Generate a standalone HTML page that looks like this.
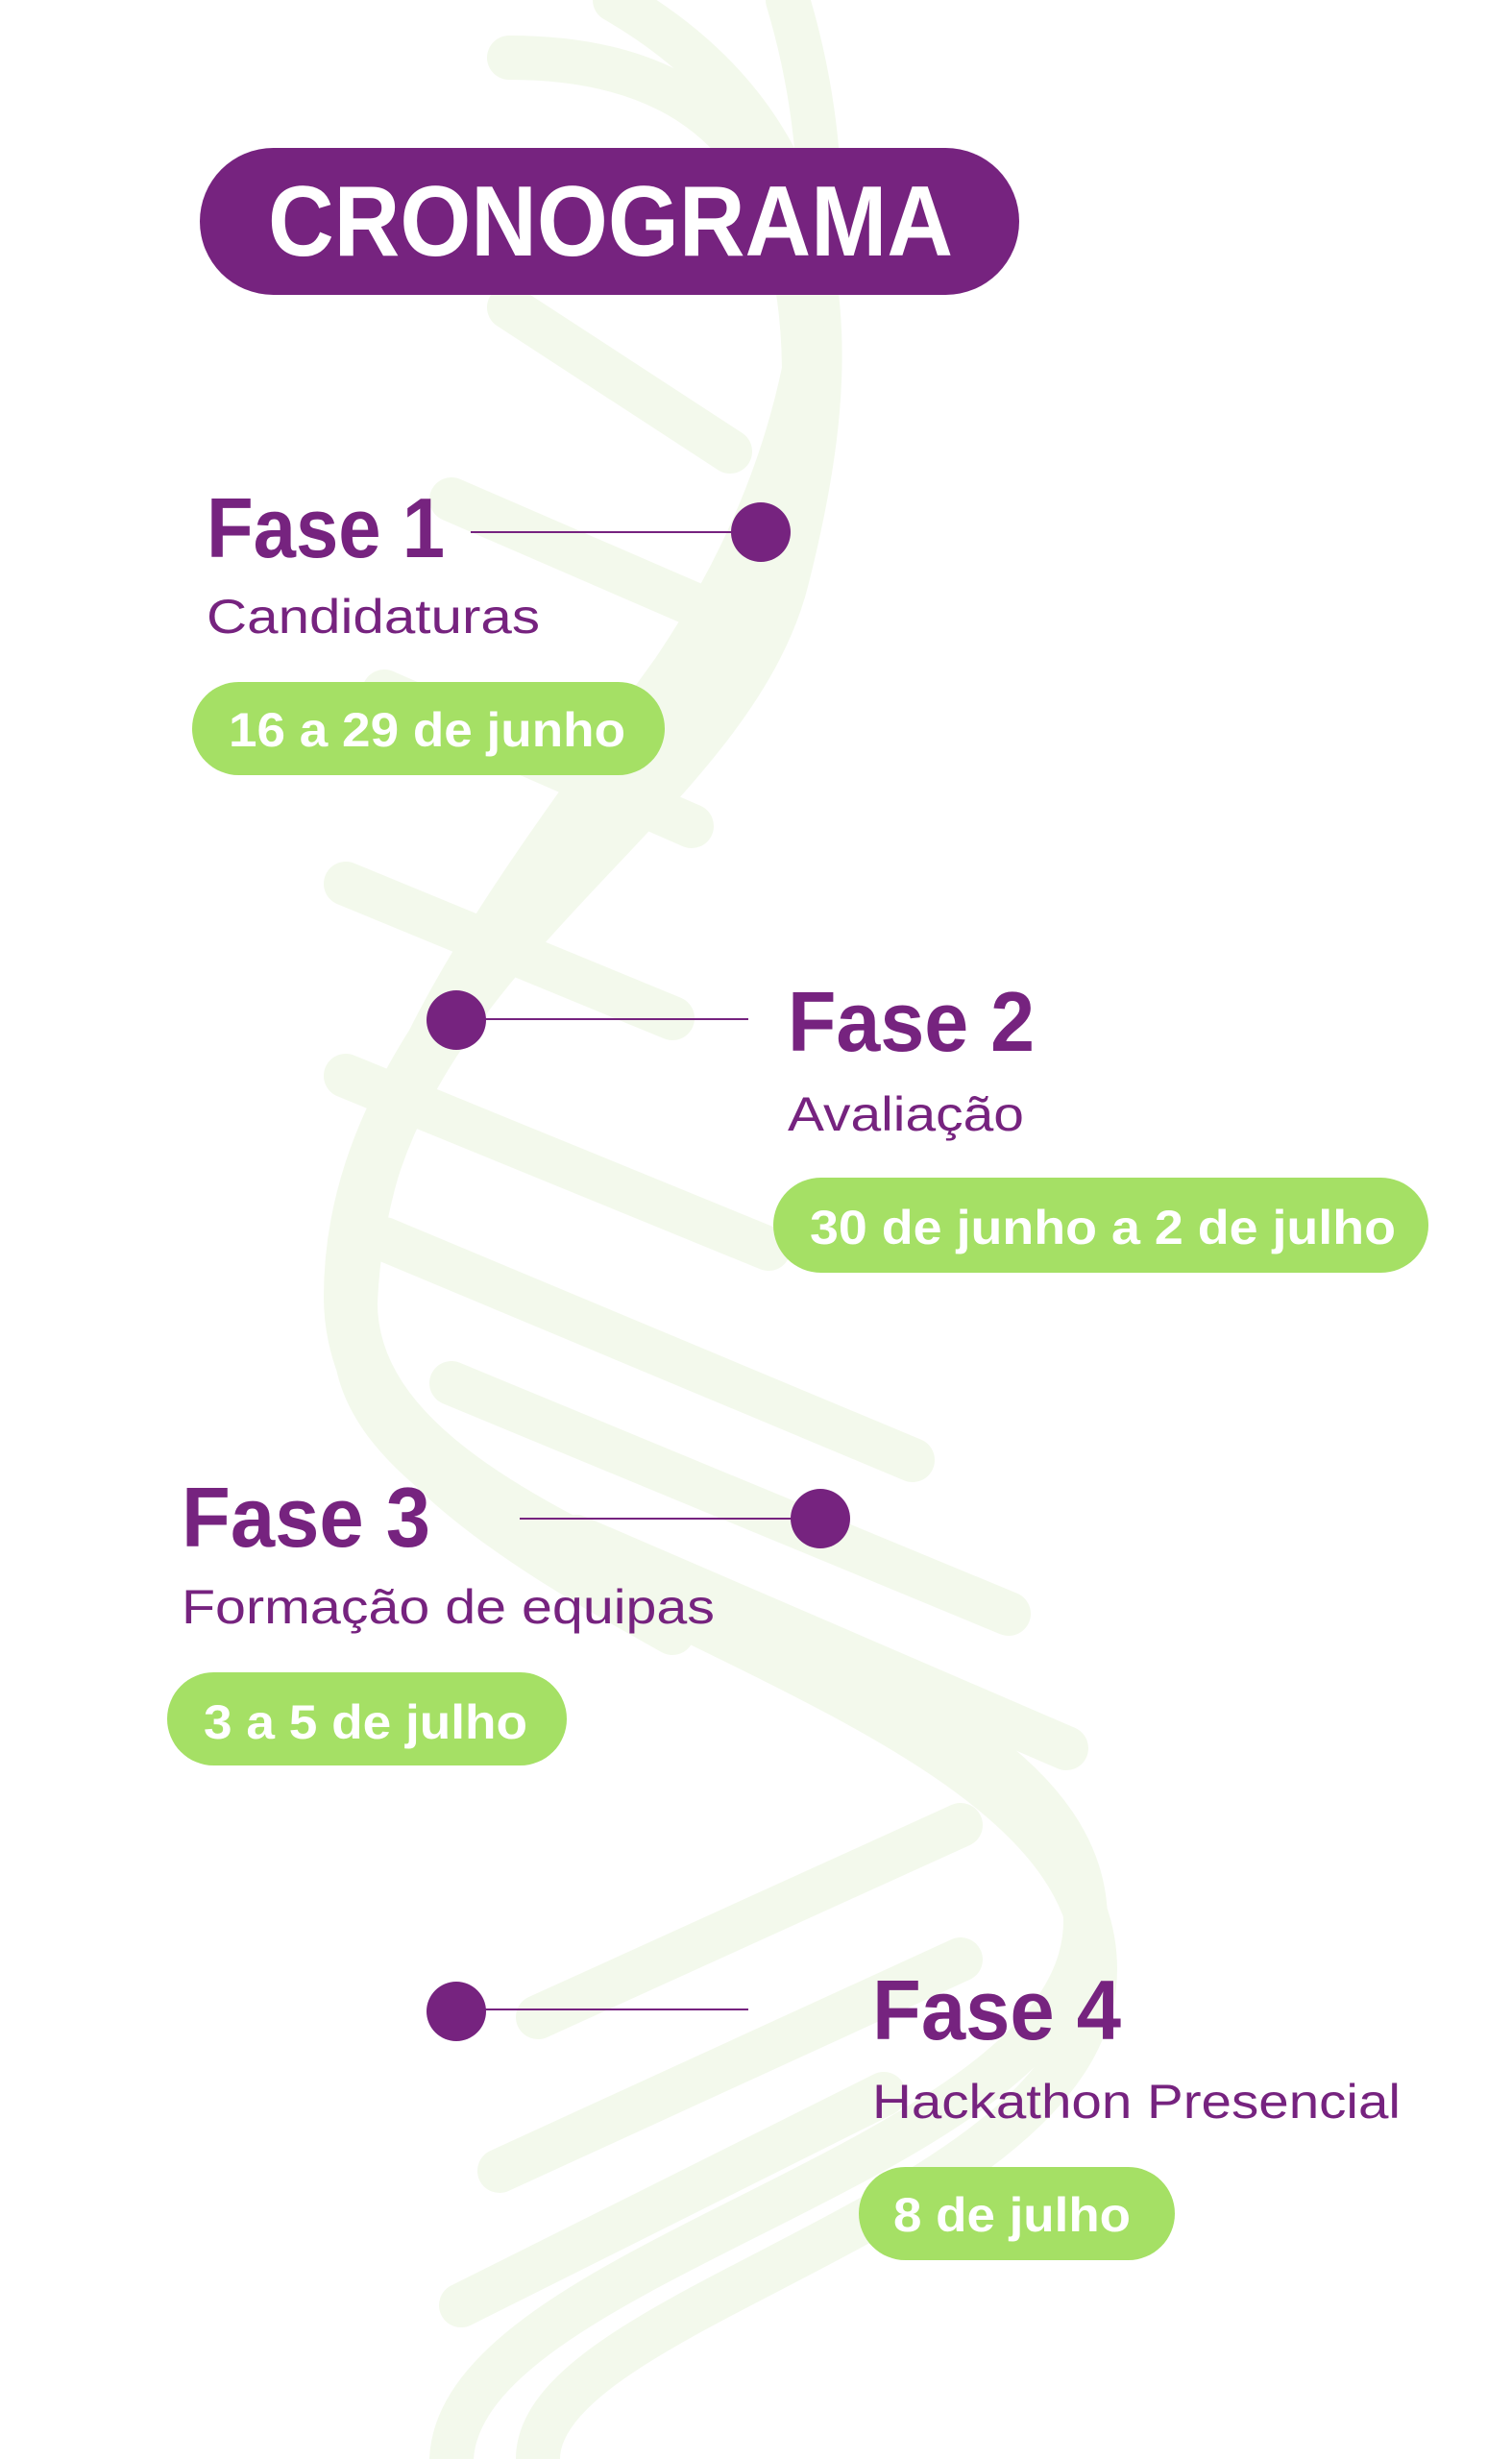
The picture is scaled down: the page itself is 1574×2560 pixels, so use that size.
<!DOCTYPE html>
<html><head><meta charset="utf-8"><style>
html,body{margin:0;padding:0;background:#fff;}
svg{display:block;}
text{font-family:"Liberation Sans",sans-serif;}
</style></head><body>
<svg width="1574" height="2560" viewBox="0 0 1574 2560" xmlns="http://www.w3.org/2000/svg">
<rect width="1574" height="2560" fill="#ffffff"/>
<!-- faint DNA background -->
<g fill="none" stroke="#f3f9ec" stroke-width="46" stroke-linecap="round">
  <path d="M640 0 C 900 150, 870 400, 820 600 C 760 850, 380 1000, 370 1350 C 360 1650, 1130 1700, 1130 2000 C 1130 2250, 480 2350, 470 2560"/>
  <path d="M820 0 C 880 200, 870 450, 700 700 C 520 950, 360 1150, 370 1400 C 380 1650, 1140 1750, 1140 2050 C 1140 2300, 560 2400, 560 2560"/>
  <path d="M530 60 C 800 60, 860 250, 830 500 C 800 800, 360 1000, 360 1350 C 360 1500, 520 1600, 700 1700"/>
  <path d="M530 320 L 760 470 M 470 520 L 770 650 M 400 720 L 720 860 M 360 920 L 700 1060 M 360 1120 L 800 1300 M 400 1290 L 950 1520 M 470 1440 L 1050 1680 M 600 1600 L 1110 1820 M 1000 1900 L 560 2100 M 1000 2040 L 520 2260 M 920 2180 L 480 2400"/>
</g>
<!-- title -->
<rect x="208" y="154" width="853" height="153" rx="76.5" fill="#76237f"/>
<text x="279" y="266" font-size="104" font-weight="bold" fill="#ffffff" textLength="713" lengthAdjust="spacingAndGlyphs">CRONOGRAMA</text>

<!-- Fase 1 -->
<text x="215" y="580" font-size="88" font-weight="bold" fill="#76237f" textLength="248" lengthAdjust="spacingAndGlyphs">Fase 1</text>
<line x1="490" y1="554" x2="770" y2="554" stroke="#76237f" stroke-width="2"/>
<circle cx="792" cy="554" r="31" fill="#76237f"/>
<text x="215" y="659" font-size="50" fill="#76237f" textLength="347" lengthAdjust="spacingAndGlyphs">Candidaturas</text>
<rect x="200" y="710" width="492" height="97" rx="48.5" fill="#a5e065"/>
<text x="238" y="777" font-size="50" font-weight="bold" fill="#ffffff" textLength="413" lengthAdjust="spacingAndGlyphs">16 a 29 de junho</text>

<!-- Fase 2 -->
<circle cx="475" cy="1062" r="31" fill="#76237f"/>
<line x1="500" y1="1061" x2="779" y2="1061" stroke="#76237f" stroke-width="2"/>
<text x="820" y="1094" font-size="88" font-weight="bold" fill="#76237f" textLength="257" lengthAdjust="spacingAndGlyphs">Fase 2</text>
<text x="820" y="1177" font-size="50" fill="#76237f" textLength="246" lengthAdjust="spacingAndGlyphs">Avaliação</text>
<rect x="805" y="1226" width="682" height="99" rx="49.5" fill="#a5e065"/>
<text x="843" y="1295" font-size="50" font-weight="bold" fill="#ffffff" textLength="610" lengthAdjust="spacingAndGlyphs">30 de junho a 2 de julho</text>

<!-- Fase 3 -->
<text x="189" y="1610" font-size="88" font-weight="bold" fill="#76237f" textLength="259" lengthAdjust="spacingAndGlyphs">Fase 3</text>
<line x1="541" y1="1581" x2="830" y2="1581" stroke="#76237f" stroke-width="2"/>
<circle cx="854" cy="1581" r="31" fill="#76237f"/>
<text x="189" y="1690" font-size="50" fill="#76237f" textLength="555" lengthAdjust="spacingAndGlyphs">Formação de equipas</text>
<rect x="174" y="1741" width="416" height="97" rx="48.5" fill="#a5e065"/>
<text x="212" y="1810" font-size="50" font-weight="bold" fill="#ffffff" textLength="337" lengthAdjust="spacingAndGlyphs">3 a 5 de julho</text>

<!-- Fase 4 -->
<circle cx="475" cy="2094" r="31" fill="#76237f"/>
<line x1="500" y1="2092" x2="779" y2="2092" stroke="#76237f" stroke-width="2"/>
<text x="908" y="2123" font-size="88" font-weight="bold" fill="#76237f" textLength="259" lengthAdjust="spacingAndGlyphs">Fase 4</text>
<text x="908" y="2205" font-size="50" fill="#76237f" textLength="550" lengthAdjust="spacingAndGlyphs">Hackathon Presencial</text>
<rect x="894" y="2256" width="329" height="97" rx="48.5" fill="#a5e065"/>
<text x="930" y="2323" font-size="50" font-weight="bold" fill="#ffffff" textLength="247" lengthAdjust="spacingAndGlyphs">8 de julho</text>
</svg>
</body></html>
